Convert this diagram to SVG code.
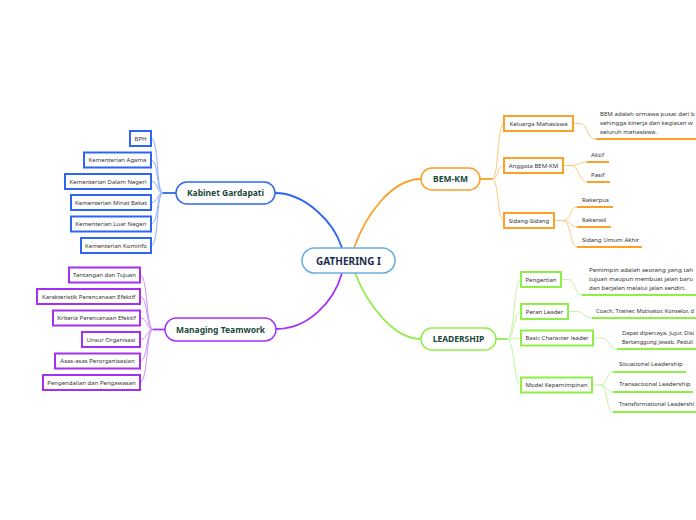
<svg xmlns="http://www.w3.org/2000/svg" width="696" height="520" viewBox="0 0 696 520">
<style>
  text { font-family: "Noto Sans", "Open Sans", sans-serif; }
  .main { font-size: 8.5px; font-weight: bold; fill: #1b4a3a; text-anchor: middle; }
  .center { font-size: 10px; font-weight: bold; fill: #1c2b4d; text-anchor: middle; }
  .sub { font-size: 6px; fill: #333333; text-anchor: middle; }
  .leaf { font-size: 6.1px; fill: #333333; }
  .tight { font-size: 5.4px; }
  .blue { stroke: #2f66f0; }
  .purple { stroke: #a530f2; }
  .orange { stroke: #fd9f28; }
  .green { stroke: #90ee48; }
  .mnode { fill: #ffffff; stroke-width: 1.5; }
  .sbox { fill: #ffffff; stroke-width: 2; }
  .lc-blue { fill: none; stroke: #8fb0fb; stroke-width: 1; }
  .lc-purple { fill: none; stroke: #d08ef8; stroke-width: 1; }
  .lc-orange { fill: none; stroke: #fdc97c; stroke-width: 1; }
  .lc-green { fill: none; stroke: #c2f4a0; stroke-width: 1; }
  .ul { fill: none; stroke-width: 2; }
  .trunk { fill: none; stroke-width: 1.8; }
</style>

<g id="connectors">
  <path class="trunk blue" d="M275,193 C305,193 334,222 342,248"/>
  <path class="trunk orange" d="M354,248 C366,214 392,179 421,179"/>
  <path class="trunk purple" d="M342,273 C334,302 308,329 276,329"/>
  <path class="trunk green" d="M355,273 C368,306 394,339 421,339"/>

  <path class="trunk blue" d="M163,193 H176"/>
  <path class="lc-blue" d="M151,138.5 C159,138.5 156,193 163,193"/>
  <path class="lc-blue" d="M151,160 C159,160 156,193 163,193"/>
  <path class="lc-blue" d="M151,181.5 C159,181.5 156,193 163,193"/>
  <path class="lc-blue" d="M151,202.5 C159,202.5 156,193 163,193"/>
  <path class="lc-blue" d="M151,224 C159,224 156,193 163,193"/>
  <path class="lc-blue" d="M151,245.5 C159,245.5 156,193 163,193"/>

  <path class="trunk purple" d="M153,329.5 H165"/>
  <path class="lc-purple" d="M140,275 C148,275 146,329.5 153,329.5"/>
  <path class="lc-purple" d="M140,296.5 C148,296.5 146,329.5 153,329.5"/>
  <path class="lc-purple" d="M140,318 C148,318 146,329.5 153,329.5"/>
  <path class="lc-purple" d="M140,339.5 C148,339.5 146,329.5 153,329.5"/>
  <path class="lc-purple" d="M140,361 C148,361 146,329.5 153,329.5"/>
  <path class="lc-purple" d="M140,382.5 C148,382.5 146,329.5 153,329.5"/>

  <path class="trunk orange" d="M480,179 H492"/>
  <path class="lc-orange" d="M492,179 C499,179 497,123.5 504,123.5"/>
  <path class="lc-orange" d="M492,179 C499,179 497,165.5 504,165.5"/>
  <path class="lc-orange" d="M492,179 C499,179 497,220.5 504,220.5"/>
  <path class="lc-orange" d="M573,123.5 H580 C588,123.5 586,139 596,139"/>
  <path class="ul orange" d="M596,139 H696"/>
  <path class="lc-orange" d="M563,165.5 H571 C579,165.5 579,162 587,162"/>
  <path class="lc-orange" d="M571,165.5 C579,165.5 579,182 587,182"/>
  <path class="ul orange" d="M587,162 H609"/>
  <path class="ul orange" d="M587,182 H610"/>
  <path class="lc-orange" d="M554,220.5 H563 C571,220.5 570,207 577,207"/>
  <path class="lc-orange" d="M563,220.5 C571,220.5 570,227 577,227"/>
  <path class="lc-orange" d="M563,220.5 C571,220.5 570,247 577,247"/>
  <path class="ul orange" d="M577,207 H613"/>
  <path class="ul orange" d="M577,227 H611"/>
  <path class="ul orange" d="M577,247 H642"/>

  <path class="trunk green" d="M496,339 H507"/>
  <path class="lc-green" d="M507,339 C515,339 513,279.5 521,279.5"/>
  <path class="lc-green" d="M507,339 C515,339 513,311.5 521,311.5"/>
  <path class="lc-green" d="M507,339 C515,339 513,338 521,338"/>
  <path class="lc-green" d="M507,339 C515,339 513,385 521,385"/>
  <path class="lc-green" d="M561,279.5 H568 C576,279.5 574,295 582,295"/>
  <path class="ul green" d="M582,295 H696"/>
  <path class="lc-green" d="M568,311.5 H576 C584,311.5 584,318 592,318"/>
  <path class="ul green" d="M592,318 H696"/>
  <path class="lc-green" d="M593,338 H601 C609,338 609,349 617,349"/>
  <path class="ul green" d="M617,349 H696"/>
  <path class="lc-green" d="M592,385 H600 C608,385 606,372 613,372"/>
  <path class="lc-green" d="M600,385 C608,385 606,392 613,392"/>
  <path class="lc-green" d="M600,385 C608,385 606,412 613,412"/>
  <path class="ul green" d="M613,372 H686"/>
  <path class="ul green" d="M613,392 H693"/>
  <path class="ul green" d="M613,412 H696"/>
</g>

<g id="gathering">
  <rect x="302" y="248" width="93" height="25" rx="12.5" fill="#ffffff" stroke="#6aaedf" stroke-width="1.6"/>
  <text class="center" x="348.5" y="264.5">GATHERING I</text>
</g>

<g id="kabinet">
  <rect class="mnode blue" x="176" y="182" width="99" height="22" rx="11"/>
  <text class="main" x="225.5" y="196">Kabinet Gardapati</text>
</g>
<g id="k-bph"><rect class="sbox blue" x="130" y="131" width="21" height="15"/><text class="sub" x="140.5" y="140.6">BPH</text></g>
<g id="k-agama"><rect class="sbox blue" x="84" y="152.5" width="67" height="15"/><text class="sub" x="117.5" y="162.1">Kementerian Agama</text></g>
<g id="k-dn"><rect class="sbox blue" x="65" y="174" width="86" height="15"/><text class="sub" x="108" y="183.6">Kementerian Dalam Negeri</text></g>
<g id="k-mb"><rect class="sbox blue" x="71" y="195" width="80" height="15"/><text class="sub" x="111" y="204.6">Kementerian Minat Bakat</text></g>
<g id="k-ln"><rect class="sbox blue" x="71" y="216.5" width="80" height="15"/><text class="sub" x="111" y="226.1">Kementerian Luar Negeri</text></g>
<g id="k-kom"><rect class="sbox blue" x="81" y="238" width="70" height="15"/><text class="sub" x="116" y="247.6">Kementerian Kominfo</text></g>

<g id="managing">
  <rect class="mnode purple" x="165" y="318" width="111" height="23" rx="11.5"/>
  <text class="main" x="220.5" y="332.5">Managing Teamwork</text>
</g>
<g id="m-1"><rect class="sbox purple" x="69" y="267.5" width="71" height="15"/><text class="sub" x="104.5" y="277.1">Tantangan dan Tujuan</text></g>
<g id="m-2"><rect class="sbox purple" x="37" y="289" width="103" height="15"/><text class="sub" x="88.5" y="298.6">Karakteristik Perencanaan Efektif</text></g>
<g id="m-3"><rect class="sbox purple" x="53" y="310.5" width="87" height="15"/><text class="sub" x="96.5" y="320.1">Kriteria Perencanaan Efektif</text></g>
<g id="m-4"><rect class="sbox purple" x="82" y="332" width="58" height="15"/><text class="sub" x="111" y="341.6">Unsur Organisasi</text></g>
<g id="m-5"><rect class="sbox purple" x="55" y="353.5" width="85" height="15"/><text class="sub" x="97.5" y="363.1">Asas-asas Perorganisasian</text></g>
<g id="m-6"><rect class="sbox purple" x="43" y="375" width="97" height="15"/><text class="sub" x="91.5" y="384.6">Pengendalian dan Pengawasan</text></g>

<g id="bemkm">
  <rect class="mnode orange" x="421" y="168" width="59" height="22" rx="11"/>
  <text class="main" x="450.5" y="182">BEM-KM</text>
</g>
<g id="b-kel"><rect class="sbox orange" x="504" y="116" width="69" height="15"/><text class="sub" x="538.5" y="125.6">Keluarga Mahasiswa</text></g>
<g id="b-kel-desc">
  <text class="leaf" x="600" y="115.5">BEM adalah ormawa pusat dari b</text>
  <text class="leaf" x="600" y="124.5">sehingga kinerja dan kegiatan w</text>
  <text class="leaf" x="600" y="133.5">seluruh mahasiswa.</text>
</g>
<g id="b-ang"><rect class="sbox orange" x="504" y="158" width="59" height="15"/><text class="sub" x="533.5" y="167.6">Anggota BEM-KM</text></g>
<g id="b-aktif"><text class="leaf" x="591" y="156.5">Aktif</text></g>
<g id="b-pasif"><text class="leaf" x="591" y="176.5">Pasif</text></g>
<g id="b-sid"><rect class="sbox orange" x="504" y="213" width="50" height="15"/><text class="sub" x="529" y="222.6">Sidang-Sidang</text></g>
<g id="b-rakerpus"><text class="leaf" x="582" y="202">Rakerpus</text></g>
<g id="b-rakerwil"><text class="leaf" x="582" y="222">Rakerwil</text></g>
<g id="b-sua"><text class="leaf" x="582" y="242">Sidang Umum Akhir</text></g>

<g id="leadership">
  <rect class="mnode green" x="421" y="328" width="75" height="22" rx="11"/>
  <text class="main" x="458.5" y="342">LEADERSHIP</text>
</g>
<g id="l-peng"><rect class="sbox green" x="521" y="272" width="40" height="15"/><text class="sub" x="541" y="281.6">Pengertian</text></g>
<g id="l-peng-desc">
  <text class="leaf" x="589" y="271.5" textLength="104" lengthAdjust="spacingAndGlyphs">Pemimpin adalah seorang yang tah</text>
  <text class="leaf" x="589" y="280.5" textLength="104" lengthAdjust="spacingAndGlyphs">tujuan maupun membuat jalan baru</text>
  <text class="leaf" x="589" y="289.5">dan berjalan melalui jalan sendiri.</text>
</g>
<g id="l-peran"><rect class="sbox green" x="521" y="304" width="47" height="15"/><text class="sub" x="544.5" y="313.6">Peran Leader</text></g>
<g id="l-peran-desc"><text class="leaf tight" x="596" y="313" textLength="98" lengthAdjust="spacingAndGlyphs">Coach, Trainer, Motivator, Konselor, d</text></g>
<g id="l-basic"><rect class="sbox green" x="521" y="330.5" width="72" height="15"/><text class="sub" x="557" y="340.1">Basic Character leader</text></g>
<g id="l-basic-desc">
  <text class="leaf tight" x="622" y="335" textLength="72" lengthAdjust="spacingAndGlyphs">Dapat dipercaya, Jujur, Disi</text>
  <text class="leaf tight" x="622" y="344" textLength="71" lengthAdjust="spacingAndGlyphs">Bertanggung Jawab, Peduli</text>
</g>
<g id="l-model"><rect class="sbox green" x="521" y="377.5" width="71" height="15"/><text class="sub" x="556.5" y="387.1">Model Kepemimpinan</text></g>
<g id="l-sit"><text class="leaf" x="619" y="366">Situational Leadership</text></g>
<g id="l-trans"><text class="leaf" x="619" y="386">Transactional Leadership</text></g>
<g id="l-transf"><text class="leaf tight" x="619" y="406" textLength="75" lengthAdjust="spacingAndGlyphs">Transformational Leadershi</text></g>
</svg>
